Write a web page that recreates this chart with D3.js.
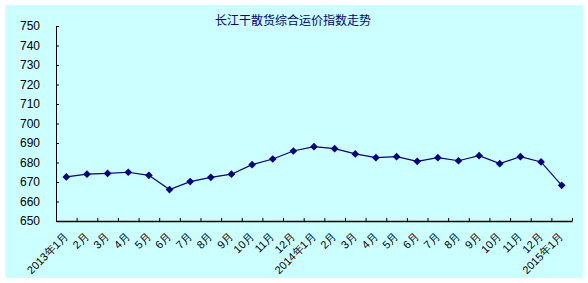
<!DOCTYPE html>
<html>
<head>
    <meta charset="UTF-8" />
    <title>长江干散货综合运价指数走势</title>
    <script src="https://d3js.org/d3.v7.min.js"></script>
    <style>
    body { margin: 0; background: #fff; }
    svg text { font-family: "Liberation Sans", Arial, sans-serif; }
    </style>
</head>
<body>
<div id="main"></div>
<script type="text/javascript">

// month labels, 2013-01 .. 2015-01
const months = ['2013年1月', '2月', '3月', '4月', '5月', '6月', '7月', '8月', '9月', '10月', '11月', '12月',
  '2014年1月', '2月', '3月', '4月', '5月', '6月', '7月', '8月', '9月', '10月', '11月', '12月',
  '2015年1月']

// index values
const values = [672.6, 674.0, 674.4, 675.0, 673.4, 666.1, 670.2, 672.4, 674.0, 678.9, 681.8, 685.9,
  688.1, 687.1, 684.4, 682.5, 683.0, 680.6, 682.5, 680.9, 683.5, 679.4, 683.0, 680.3,
  668.3]

const yTicks = [650, 660, 670, 680, 690, 700, 710, 720, 730, 740, 750]

const width = 588
const height = 283
const plotLeft = 56, plotRight = 572, plotTop = 26, plotBottom = 221

const data = months.map((m, i) => ({ key: i, label: m, value: values[i] }))

const x = d3.scaleBand()
  .domain(data.map(d => d.key))
  .range([plotLeft, plotRight])
  .padding(0)

const xEdges = d3.scaleLinear()
  .domain([0, months.length])
  .range([plotLeft, plotRight])

const y = d3.scaleLinear()
  .domain([650, 750])
  .range([plotBottom, plotTop])

const svg = d3.select('#main').append('svg')
  .attr('width', width)
  .attr('height', height)

svg.append('rect')
  .attr('x', 5).attr('y', 5)
  .attr('width', 578).attr('height', 273)
  .attr('fill', '#ccffff')

// title
svg.append('text')
  .attr('x', 293)
  .attr('y', 25)
  .attr('text-anchor', 'middle')
  .style('font-family', '"Noto Sans CJK SC", sans-serif')
  .style('font-size', '12px')
  .attr('fill', '#000080')
  .text('长江干散货综合运价指数走势')

// y axis
const yAxis = svg.append('g')
  .attr('transform', `translate(${plotLeft},0)`)
  .call(d3.axisLeft(y).tickValues(yTicks).tickSize(-3).tickSizeOuter(0).tickPadding(16))
yAxis.selectAll('text').style('font-size', '12px').attr('fill', '#000')
yAxis.selectAll('line, path').attr('stroke', '#000')

// x axis, ticks on month boundaries
const xAxis = svg.append('g')
  .attr('transform', `translate(0,${plotBottom})`)
  .call(d3.axisBottom(xEdges).tickValues(d3.range(1, months.length + 1)).tickFormat('').tickSize(-3).tickSizeOuter(0))
xAxis.selectAll('line, path').attr('stroke', '#000')
xAxis.select('path').attr('stroke-width', 1.5)

// rotated month labels
svg.append('g').selectAll('text').data(data)
  .enter().append('text')
  .attr('text-anchor', 'end')
  .attr('transform', d => `translate(${x(d.key) + x.bandwidth() / 2 - 3},${plotBottom + 11}) rotate(-45)`)
  .attr('dy', '0.7em')
  .style('font-size', '11px')
  .attr('fill', '#000')
  .text(d => d.label)

// series line
const line = d3.line()
  .x(d => x(d.key) + x.bandwidth() / 2)
  .y(d => y(d.value))

svg.append('path')
  .datum(data)
  .attr('d', line)
  .attr('fill', 'none')
  .attr('stroke', '#000080')
  .attr('stroke-width', 1.2)

// diamond markers
svg.append('g').selectAll('path').data(data)
  .enter().append('path')
  .attr('d', d3.symbol().type(d3.symbolDiamond2).size(38))
  .attr('transform', d => `translate(${x(d.key) + x.bandwidth() / 2},${y(d.value)})`)
  .attr('fill', '#000080')

</script>
</body>
</html>
